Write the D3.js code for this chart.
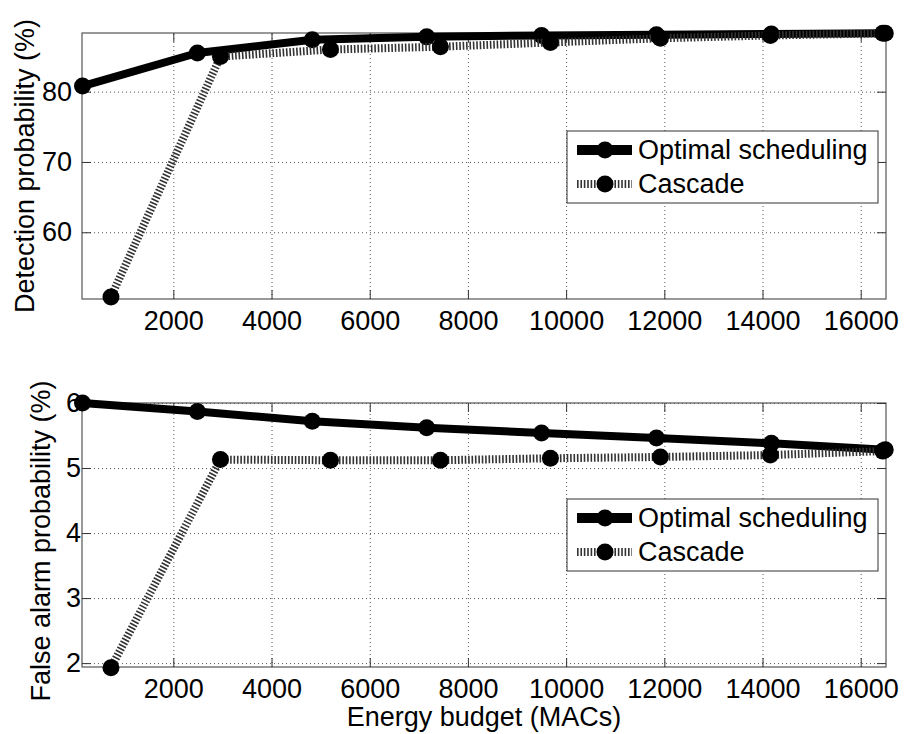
<!DOCTYPE html>
<html>
<head>
<meta charset="utf-8">
<script src="https://cdn.jsdelivr.net/npm/d3@7"></script>
<style>
    body { margin: 0; background: #fff; }
    svg { display: block; font-family: "Liberation Sans", Arial, sans-serif; }
    .grid line { stroke: #555; stroke-dasharray: 1,3; }
    .grid path { display: none; }
    .tick_marks path { display: none; }
    .tick_marks line { stroke: #333; }
    .labels path { display: none; }
    .labels text { font-size: 27px; fill: #000; }
</style>
</head>
<body>
<div class="chart"></div>
<script>

// energy budgets (MACs)
const optimalBudget = [150, 2490, 4830, 7160, 9500, 11840, 14180, 16500]
const cascadeBudget = [730, 2960, 5200, 7440, 9680, 11920, 14160, 16450]

// detection probability (%)
const optimalDetection = [80.8, 85.5, 87.4, 87.8, 88.0, 88.1, 88.2, 88.3]
const cascadeDetection = [50.8, 85.0, 86.0, 86.4, 87.0, 87.6, 88.0, 88.3]

// false alarm probability (%)
const optimalFalseAlarm = [6.0, 5.87, 5.72, 5.62, 5.54, 5.46, 5.38, 5.28]
const cascadeFalseAlarm = [1.93, 5.13, 5.12, 5.12, 5.15, 5.17, 5.20, 5.26]

const xTicks = [2000, 4000, 6000, 8000, 10000, 12000, 14000, 16000]
const detectionTicks = [60, 70, 80]
const falseAlarmTicks = [2, 3, 4, 5, 6]

const seriesNames = ["Optimal scheduling", "Cascade"]

function drawChart() {

    let dimensions = {
        width: 904,
        height: 734,
        margin: {
            left: 82,
            right: 18,
        }
    }
    dimensions.boundedWidth = dimensions.width -
        dimensions.margin.left -
        dimensions.margin.right

    const wrapper = d3.select(".chart")
        .append("svg")
        .attr("width", dimensions.width)
        .attr("height", dimensions.height)

    const xScale = d3.scaleLinear()
        .domain([140, 16515])
        .range([0, dimensions.boundedWidth])

    const xAccessor = d => d.x
    const yAccessor = d => d.y
    const plain = d3.format("d")

    const panels = [
        {
            top: 33, height: 266,
            domain: [50.5, 88.35],
            ticks: detectionTicks,
            optimal: optimalDetection,
            cascade: cascadeDetection,
            label: "Detection probability (%)",
            labelX: 34,
            labelShift: 0,
            tickGap: 10,
            legendTop: 98,
        },
        {
            top: 403, height: 264,
            domain: [1.94, 6.0],
            ticks: falseAlarmTicks,
            optimal: optimalFalseAlarm,
            cascade: cascadeFalseAlarm,
            label: "False alarm probability (%)",
            labelX: 50,
            labelShift: 6,
            tickGap: 1,
            legendTop: 96,
        },
    ]

    panels.forEach(p => {

        const yScale = d3.scaleLinear()
            .domain(p.domain)
            .range([p.height, 0])

        const bounds = wrapper.append("g")
            .attr("transform", `translate(${dimensions.margin.left}, ${p.top})`)

        // dotted grid
        bounds.append("g")
            .attr("class", "grid")
            .attr("transform", `translate(0, ${p.height})`)
            .call(d3.axisBottom(xScale).tickValues(xTicks).tickSize(-p.height).tickFormat(""))
        bounds.append("g")
            .attr("class", "grid")
            .call(d3.axisLeft(yScale).tickValues(p.ticks).tickSize(-dimensions.boundedWidth).tickFormat(""))

        // box
        bounds.append("rect")
            .attr("width", dimensions.boundedWidth)
            .attr("height", p.height)
            .attr("fill", "none")
            .attr("stroke", "#555")
            .attr("stroke-width", 1.2)

        // inward ticks on all four sides
        bounds.append("g").attr("class", "tick_marks")
            .attr("transform", `translate(0, ${p.height})`)
            .call(d3.axisBottom(xScale).tickValues(xTicks).tickSize(-9).tickFormat(""))
        bounds.append("g").attr("class", "tick_marks")
            .call(d3.axisTop(xScale).tickValues(xTicks).tickSize(-9).tickFormat(""))
        bounds.append("g").attr("class", "tick_marks")
            .call(d3.axisLeft(yScale).tickValues(p.ticks).tickSize(-9).tickFormat(""))
        bounds.append("g").attr("class", "tick_marks")
            .attr("transform", `translate(${dimensions.boundedWidth}, 0)`)
            .call(d3.axisRight(yScale).tickValues(p.ticks).tickSize(-9).tickFormat(""))

        // tick labels
        bounds.append("g").attr("class", "labels")
            .attr("transform", `translate(0, ${p.height})`)
            .call(d3.axisBottom(xScale).tickValues(xTicks).tickSize(0).tickPadding(12).tickFormat(plain))
            .selectAll("text").attr("dy", "0.71em")
        bounds.append("g").attr("class", "labels")
            .call(d3.axisLeft(yScale).tickValues(p.ticks).tickSize(0).tickPadding(p.tickGap).tickFormat(plain))

        bounds.append("text")
            .attr("transform", `translate(${p.labelX - dimensions.margin.left}, ${p.height / 2 + p.labelShift}) rotate(-90)`)
            .attr("text-anchor", "middle")
            .style("font-size", "27px")
            .text(p.label)

        // series
        const optimalData = optimalBudget.map((x, i) => ({x, y: p.optimal[i]}))
        const cascadeData = cascadeBudget.map((x, i) => ({x, y: p.cascade[i]}))

        const lineGenerator = d3.line()
            .x(d => xScale(xAccessor(d)))
            .y(d => yScale(yAccessor(d)))

        bounds.append("path")
            .attr("d", lineGenerator(optimalData))
            .attr("fill", "none")
            .attr("stroke", "#000")
            .attr("stroke-width", 8)
            .attr("stroke-linejoin", "round")
        bounds.selectAll(".opt_dot")
            .data(optimalData)
            .join("circle")
            .attr("class", "opt_dot")
            .attr("cx", d => xScale(xAccessor(d)))
            .attr("cy", d => yScale(yAccessor(d)))
            .attr("r", 8.5)

        bounds.append("path")
            .attr("d", lineGenerator(cascadeData))
            .attr("fill", "none")
            .attr("stroke", "#333")
            .attr("stroke-width", 8)
            .attr("stroke-dasharray", "1.6,1.8")
        bounds.selectAll(".cas_dot")
            .data(cascadeData)
            .join("circle")
            .attr("class", "cas_dot")
            .attr("cx", d => xScale(xAccessor(d)))
            .attr("cy", d => yScale(yAccessor(d)))
            .attr("r", 8.5)

        // legend
        const legend = bounds.append("g")
            .attr("transform", `translate(${567 - dimensions.margin.left}, ${p.legendTop})`)
        legend.append("rect")
            .attr("width", 311)
            .attr("height", 72)
            .attr("fill", "#fff")
            .attr("stroke", "#333")

        const rows = legend.selectAll(".legend_row")
            .data(seriesNames)
            .join("g")
            .attr("class", "legend_row")
            .attr("transform", (d, i) => `translate(0, ${19 + i * 34})`)
        rows.append("line")
            .attr("x1", 10).attr("x2", 65)
            .attr("stroke", (d, i) => i ? "#333" : "#000")
            .attr("stroke-width", (d, i) => i ? 8 : 10)
            .attr("stroke-dasharray", (d, i) => i ? "1.6,1.8" : null)
        rows.append("circle")
            .attr("cx", 38)
            .attr("r", 8.5)
        rows.append("text")
            .attr("x", 71)
            .attr("dy", "0.35em")
            .style("font-size", "27px")
            .text(d => d)
    })

    wrapper.append("text")
        .attr("x", dimensions.margin.left + dimensions.boundedWidth / 2)
        .attr("y", 726)
        .attr("text-anchor", "middle")
        .style("font-size", "27px")
        .text("Energy budget (MACs)")
}

drawChart()
</script>
</body>
</html>
